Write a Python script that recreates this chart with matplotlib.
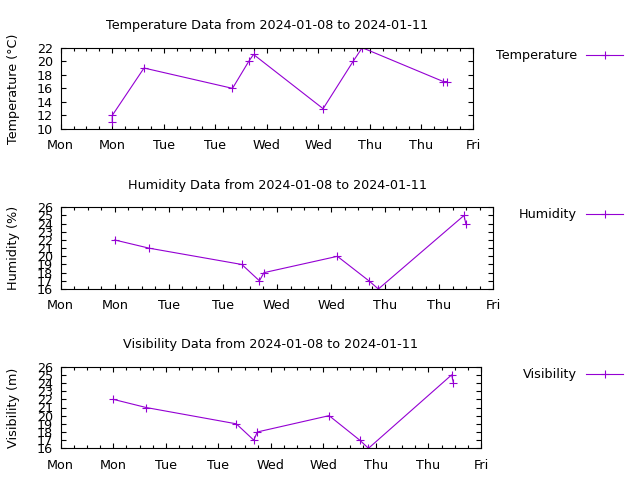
import datetime as dt
import matplotlib
matplotlib.use("Agg")
import matplotlib.pyplot as plt
import matplotlib.dates as mdates
from matplotlib.lines import Line2D

# readings, hours after 2024-01-08 00:00
temp_hours = [12.0, 12.0, 19.4, 40.0, 43.8, 44.9, 61.1, 68.1, 70.2, 89.1, 89.9]
temp_values = [11, 12, 19, 16, 20, 21, 13, 20, 22, 17, 17]

hum_hours = [12.0, 19.6, 40.2, 44.1, 45.1, 61.4, 68.4, 70.5, 89.5, 89.9]
hum_values = [22, 21, 19, 17, 18, 20, 17, 16, 25, 24]

vis_hours = [12.0, 19.5, 40.1, 44.1, 44.9, 61.3, 68.3, 70.3, 89.3, 89.7]
vis_values = [22, 21, 19, 17, 18, 20, 17, 16, 25, 24]

start = dt.datetime(2024, 1, 8)
end = dt.datetime(2024, 1, 12)
color = "#9400D3"
FS = 9.2

plt.rcParams["font.family"] = "DejaVu Sans"
fig = plt.figure(figsize=(6.4, 4.8), dpi=100)


def px_axes(left, right, top, bottom):
    return fig.add_axes([left / 640, 1 - bottom / 480,
                         (right - left) / 640, (bottom - top) / 480])


def panel(ax, hours, values, title, ylabel, yticks, name, legend_y):
    times = [start + dt.timedelta(hours=h) for h in hours]
    ax.plot(times, values, color=color, lw=0.8, marker="+", ms=6, mew=0.8)
    ax.set_xlim(start, end)
    ax.set_ylim(yticks[0], yticks[-1])
    ax.set_yticks(yticks)
    ax.xaxis.set_major_locator(mdates.HourLocator(byhour=[0, 12]))
    ax.xaxis.set_minor_locator(mdates.HourLocator(interval=3))
    ax.xaxis.set_major_formatter(mdates.DateFormatter("%a"))
    ax.tick_params(which="both", direction="in", top=True, right=True,
                   labelsize=FS, width=0.8)
    ax.tick_params(which="major", length=3.5)
    ax.tick_params(which="minor", length=2)
    ax.tick_params(axis="x", pad=7.5)
    ax.tick_params(axis="y", pad=5.5)
    for s in ax.spines.values():
        s.set_linewidth(0.8)
    ax.set_title(title, fontsize=FS, pad=13.5)
    pos = ax.get_position()
    fig.text(14 / 640, pos.y0 + pos.height / 2, ylabel, rotation=90,
             ha="center", va="center", fontsize=FS)
    y = 1 - legend_y / 480
    fig.text(577 / 640, y, name, ha="right", va="center", fontsize=FS)
    fig.add_artist(Line2D([586 / 640, 623 / 640], [y, y], color=color, lw=0.8))
    fig.add_artist(Line2D([604.5 / 640], [y], color=color, marker="+",
                          ms=6, mew=0.8))


ax1 = px_axes(60.7, 473, 47.7, 129)
panel(ax1, temp_hours, temp_values, "Temperature Data from 2024-01-08 to 2024-01-11",
      "Temperature (°C)", list(range(10, 23, 2)), "Temperature", 55)

ax2 = px_axes(60.7, 493.3, 207.3, 289)
panel(ax2, hum_hours, hum_values, "Humidity Data from 2024-01-08 to 2024-01-11",
      "Humidity (%)", list(range(16, 27)), "Humidity", 214.3)

ax3 = px_axes(60.7, 481, 366.7, 448.3)
panel(ax3, vis_hours, vis_values, "Visibility Data from 2024-01-08 to 2024-01-11",
      "Visibility (m)", list(range(16, 27)), "Visibility", 374.3)

fig.savefig("out.png", dpi=100)
